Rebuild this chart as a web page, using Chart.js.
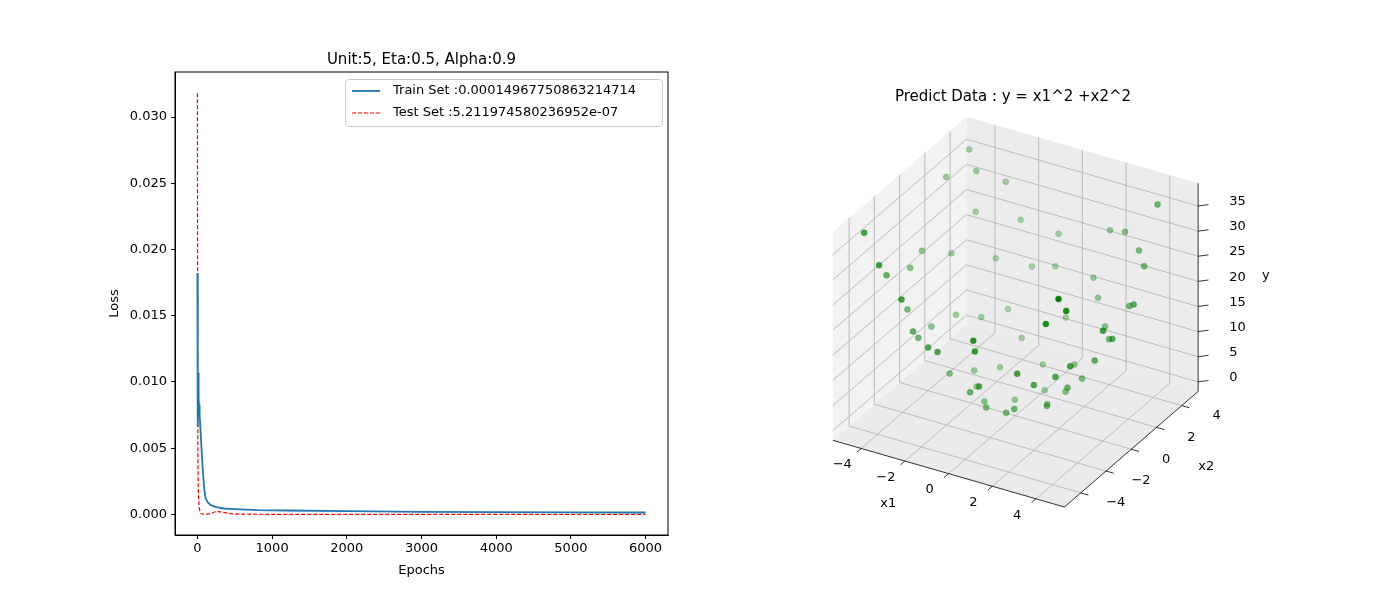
<!DOCTYPE html>
<html>
<head>
<meta charset="utf-8">
<script src="https://cdn.jsdelivr.net/npm/chart.js@4.4.1/dist/chart.umd.min.js"></script>
<style>
  body { margin: 0; background: #fff; }
  #wrap { position: relative; width: 1400px; height: 600px; }
  #wrap canvas { position: absolute; top: 0; }
</style>
</head>
<body>
<div id="wrap">
  <div style="position:absolute;left:0;top:0;width:700px;height:600px"><canvas id="lossChart"></canvas></div>
  <div style="position:absolute;left:700px;top:0;width:700px;height:600px"><canvas id="predChart"></canvas></div>
</div>
<script>
// ---- left panel data ----
const trainEpochs = [0, 3, 6, 10, 14, 18, 22, 30, 40, 55, 70, 90, 110, 140, 180, 250, 350, 500, 800, 1200, 2000, 3000, 4000, 5000, 6000];
const trainLoss   = [0.0182, 0.0095, 0.0066, 0.0107, 0.0078, 0.0087, 0.0083, 0.0075, 0.0065, 0.0050, 0.0035, 0.0020, 0.0012, 0.0009, 0.0007, 0.00055, 0.00045, 0.0004, 0.00033, 0.0003, 0.00025, 0.0002, 0.00018, 0.00016, 0.00015];
const testEpochs  = [0, 2, 4, 6, 8, 10, 14, 18, 25, 35, 50, 80, 120, 180, 250, 300, 400, 500, 1000, 2000, 3000, 4000, 5000, 6000];
const testLoss    = [0.0318, 0.018, 0.0085, 0.005, 0.0035, 0.0025, 0.0015, 0.0010, 0.0005, 0.0002, 0.00005, 0.00002, 0.00002, 0.00005, 0.00025, 0.0002, 0.0001, 0.00003, 0.00001, 0.000005, 0.000002, 0.000001, 0.000001, 0.0000005];
const lossTicksY = [0, 0.005, 0.010, 0.015, 0.020, 0.025, 0.030];
const epochTicks = [0, 1000, 2000, 3000, 4000, 5000, 6000];

// ---- right panel data (x1, x2, predicted y) ----
const predX1 = [-4.6, -3.9, -4.2, -3.1, -2.6, -4.8, -1.5, -0.8, -3.5, -2.2, -1.1, 0.4, 1.2, 2.3, 3.4, 4.1, 4.6, 3.8, 2.7, 1.6, 0.5, -0.4, -1.8, -2.9, -3.7, -4.4, -0.2, 1.9, 3.1, 4.4, -4.9, -3.3, -2.0, -0.9, 0.8, 2.1, 3.6, 4.8, -1.4, 0.1, 1.4, 2.6, 3.9, -2.5, -3.9, -4.5, -1.2, 0.3, 1.1, 2.9, 4.2, -0.6, -2.8, 1.7, 3.3, 0.9, -1.9, -4.1, 2.4, 4.7, -3.0, -0.3, 1.5, 3.7, -4.7, -2.3, 0.7, 2.0, 4.0, -1.6];
const predX2 = [4.3, 3.6, 2.2, 4.6, 1.8, 0.9, 3.9, 4.8, -0.6, -1.4, 2.4, 3.3, 4.1, 4.7, 3.9, 3.1, 1.4, -0.3, 0.6, 1.9, -1.6, -2.9, -3.8, -3.1, -4.4, -2.6, 0.3, -0.8, -2.2, -3.6, 3.0, 1.0, 0.2, -0.9, -4.6, -3.5, -1.9, -4.9, 1.2, 2.0, 0.1, 2.6, 4.5, -4.7, -1.8, -4.2, -4.1, -3.4, -2.0, -0.9, 0.4, 4.2, 3.3, 3.6, 1.7, -4.9, 2.7, 4.0, -2.7, -1.2, -2.5, -1.8, 4.9, -4.0, -0.2, 4.4, 1.1, 0.5, 2.1, -0.3];
const predY  = [36.0, 26.0, 20.4, 30.8, 10.6, 23.0, 17.5, 22.9, 12.8, 6.8, 7.0, 11.0, 18.2, 27.4, 26.8, 26.3, 23.0, 14.5, 7.6, 6.2, 2.8, 8.6, 17.7, 18.0, 33.0, 26.2, 0.4, 4.2, 14.5, 32.3, 33.0, 11.9, 4.2, 1.8, 21.9, 16.7, 16.6, 38.0, 3.4, 4.1, 2.0, 13.5, 35.3, 28.3, 18.3, 38.0, 18.2, 11.7, 5.2, 9.3, 17.8, 18.0, 18.8, 15.9, 13.8, 24.8, 11.1, 33.0, 13.1, 23.5, 15.3, 3.3, 26.3, 29.7, 22.1, 24.7, 1.7, 4.3, 20.4, 2.6];
const x1Ticks = [-4, -2, 0, 2, 4];
const x2Ticks = [-4, -2, 0, 2, 4];
const yTicks3d = [0, 5, 10, 15, 20, 25, 30, 35];

const FONT = '"DejaVu Sans", sans-serif';

// ---------- left: loss curves ----------
const pairs = (xs, ys) => xs.map((x, i) => ({ x: x, y: ys[i] }));

const lossDecor = {
    id: 'lossDecor',
    afterDraw(chart) {
        const c = chart.ctx, a = chart.chartArea;
        c.save();
        c.strokeStyle = '#000';
        c.lineWidth = 1;
        c.strokeRect(a.left, a.top, a.right - a.left, a.bottom - a.top);
        c.fillStyle = '#000';
        c.font = '15px ' + FONT;
        c.textAlign = 'center';
        c.textBaseline = 'alphabetic';
        c.fillText('Unit:5, Eta:0.5, Alpha:0.9', (a.left + a.right) / 2, 64);
        c.font = '13px ' + FONT;
        c.fillText('Epochs', (a.left + a.right) / 2, 574);
        c.translate(118, (a.top + a.bottom) / 2);
        c.rotate(-Math.PI / 2);
        c.fillText('Loss', 0, 0);
        c.restore();

        // legend
        c.save();
        const lx = 345, ly = 79, lw = 317, lh = 47;
        c.fillStyle = 'rgba(255,255,255,0.8)';
        c.strokeStyle = '#ccc';
        c.lineWidth = 1;
        c.beginPath();
        c.roundRect(lx + 0.5, ly + 0.5, lw, lh, 3);
        c.fill(); c.stroke();
        c.font = '13px ' + FONT;
        c.textBaseline = 'middle';
        c.fillStyle = '#000';
        c.strokeStyle = '#1f77b4';
        c.lineWidth = 1.8;
        c.beginPath(); c.moveTo(lx + 7, ly + 12); c.lineTo(lx + 35, ly + 12); c.stroke();
        c.fillText('Train Set :0.00014967750863214714', lx + 48, ly + 12);
        c.strokeStyle = 'red';
        c.lineWidth = 1.2;
        c.setLineDash([4, 2]);
        c.beginPath(); c.moveTo(lx + 7, ly + 34); c.lineTo(lx + 35, ly + 34); c.stroke();
        c.setLineDash([]);
        c.fillText('Test Set :5.211974580236952e-07', lx + 48, ly + 34);
        c.restore();
    }
};

new Chart(document.getElementById('lossChart'), {
    type: 'line',
    data: {
        datasets: [{
            label: 'Train Set',
            data: pairs(trainEpochs, trainLoss),
            borderColor: '#1f77b4',
            borderWidth: 1.8,
            pointRadius: 0,
            tension: 0
        }, {
            label: 'Test Set',
            data: pairs(testEpochs, testLoss),
            borderColor: 'red',
            borderWidth: 1.2,
            borderDash: [4, 2],
            pointRadius: 0,
            tension: 0
        }]
    },
    options: {
        responsive: true,
        maintainAspectRatio: false,
        animation: false,
        layout: { padding: { top: 72, right: 32, left: 0, bottom: 0 } },
        plugins: { legend: { display: false }, tooltip: { enabled: false } },
        scales: {
            x: {
                type: 'linear', min: -300, max: 6300,
                afterBuildTicks: s => { s.ticks = epochTicks.map(v => ({ value: v })); },
                afterFit: s => { s.height = 65; },
                ticks: { color: '#000', font: { family: FONT, size: 13 }, maxRotation: 0, padding: 2,
                         callback: v => String(v) },
                grid: { drawOnChartArea: false, color: '#000', tickLength: 4 },
                border: { color: '#000' }
            },
            y: {
                type: 'linear', min: -0.00155, max: 0.0334,
                afterBuildTicks: s => { s.ticks = lossTicksY.map(v => ({ value: v })); },
                afterFit: s => { s.width = 175; },
                ticks: { color: '#000', font: { family: FONT, size: 13 }, padding: 4,
                         callback: v => v.toFixed(3) },
                grid: { drawOnChartArea: false, color: '#000', tickLength: 4 },
                border: { color: '#000' }
            }
        }
    },
    plugins: [lossDecor]
});

// ---------- right: 3D scatter projected onto a flat scatter ----------
const OFFX = 700;               // canvas offset inside the page
const S = 271, CX = 1015 - OFFX, CY = 312, ZASP = 0.9;
const az = -60 * Math.PI / 180, el = 30 * Math.PI / 180;
const R = [-Math.sin(az), Math.cos(az), 0];
const U = [-Math.sin(el) * Math.cos(az), -Math.sin(el) * Math.sin(az), Math.cos(el)];
const E = [Math.cos(el) * Math.cos(az), Math.cos(el) * Math.sin(az), Math.sin(el)];
const zMin = -1.9, zMax = 39.5;
const norm = (x1, x2, y) => [x1 / 10.6, x2 / 10.6, ZASP * ((y - zMin) / (zMax - zMin) - 0.5)];
const dot = (a, b) => a[0] * b[0] + a[1] * b[1] + a[2] * b[2];
function proj(x1, x2, y) {
    const p = norm(x1, x2, y);
    return { x: CX + S * dot(R, p), y: CY - S * dot(U, p), d: dot(E, p) };
}

const pts = predX1.map((x, i) => proj(x, predX2[i], predY[i]));
const depths = pts.map(p => p.d);
const dLo = Math.min(...depths), dHi = Math.max(...depths);
const ptColors = pts.map(p => {
    const a = 0.3 + 0.7 * (p.d - dLo) / (dHi - dLo);
    return 'rgba(0,128,0,' + a.toFixed(2) + ')';
});

const X1L = -5.3, X1H = 5.3, X2L = -5.3, X2H = 5.3;

const boxDecor = {
    id: 'boxDecor',
    beforeDatasetsDraw(chart) {
        const c = chart.ctx, sx = chart.scales.x, sy = chart.scales.y;
        const P = (a, b, z) => { const q = proj(a, b, z); return [sx.getPixelForValue(q.x), sy.getPixelForValue(q.y)]; };
        const poly = (list, fill) => {
            c.beginPath();
            list.forEach((q, i) => { const p = P(...q); i ? c.lineTo(p[0], p[1]) : c.moveTo(p[0], p[1]); });
            c.closePath(); c.fillStyle = fill; c.fill();
        };
        const line = (a, b, col, w) => {
            const p = P(...a), q = P(...b);
            c.beginPath(); c.moveTo(p[0], p[1]); c.lineTo(q[0], q[1]);
            c.strokeStyle = col; c.lineWidth = w; c.stroke();
        };
        c.save();
        // panes
        poly([[X1L, X2L, zMin], [X1L, X2H, zMin], [X1L, X2H, zMax], [X1L, X2L, zMax]], '#f2f2f2');
        poly([[X1L, X2H, zMin], [X1H, X2H, zMin], [X1H, X2H, zMax], [X1L, X2H, zMax]], '#ececec');
        poly([[X1L, X2L, zMin], [X1H, X2L, zMin], [X1H, X2H, zMin], [X1L, X2H, zMin]], '#ebebeb');
        const g = '#b0b0b0';
        x1Ticks.forEach(t => {
            line([t, X2L, zMin], [t, X2H, zMin], g, 0.8);
            line([t, X2H, zMin], [t, X2H, zMax], g, 0.8);
        });
        x2Ticks.forEach(t => {
            line([X1L, t, zMin], [X1H, t, zMin], g, 0.8);
            line([X1L, t, zMin], [X1L, t, zMax], g, 0.8);
        });
        yTicks3d.forEach(t => {
            line([X1L, X2L, t], [X1L, X2H, t], g, 0.8);
            line([X1L, X2H, t], [X1H, X2H, t], g, 0.8);
        });
        // axis lines
        line([X1L, X2L, zMin], [X1H, X2L, zMin], '#000', 0.8);
        line([X1H, X2L, zMin], [X1H, X2H, zMin], '#000', 0.8);
        line([X1H, X2H, zMin], [X1H, X2H, zMax], '#000', 0.8);

        c.fillStyle = '#000';
        c.font = '13px ' + FONT;
        c.textAlign = 'center';
        c.textBaseline = 'middle';
        x1Ticks.forEach(t => {
            line([t, X2L, zMin], [t, X2L - 0.35, zMin], '#000', 0.8);
            const p = P(t, X2L - 1.5, zMin);
            c.fillText(t < 0 ? '\u2212' + (-t) : String(t), p[0], p[1]);
        });
        x2Ticks.forEach(t => {
            line([X1H, t, zMin], [X1H + 0.35, t, zMin], '#000', 0.8);
            const p = P(X1H + 1.6, t, zMin);
            c.fillText(t < 0 ? '\u2212' + (-t) : String(t), p[0], p[1]);
        });
        yTicks3d.forEach(t => {
            line([X1H, X2H, t], [X1H + 0.3, X2H + 0.3, t], '#000', 0.8);
            const p = P(X1H + 0.9, X2H + 0.9, t);
            c.textAlign = 'left';
            c.fillText(String(t), p[0], p[1]);
            c.textAlign = 'center';
        });
        let p = P(0, X2L - 3.2, zMin);
        c.fillText('x1', p[0] - 20, p[1] - 5);
        p = P(X1H + 3.2, 0, zMin);
        c.fillText('x2', p[0] + 5, p[1] - 3);
        p = P(X1H + 2.6, X2H + 2.6, (zMin + zMax) / 2);
        c.fillText('y', p[0] - 22, p[1]);
        c.restore();
    },
    afterDraw(chart) {
        const c = chart.ctx;
        c.save();
        c.fillStyle = '#000';
        c.font = '15px ' + FONT;
        c.textAlign = 'center';
        c.fillText('Predict Data : y = x1^2 +x2^2', 1013 - OFFX, 101);
        c.restore();
    }
};

new Chart(document.getElementById('predChart'), {
    type: 'scatter',
    data: {
        datasets: [{
            label: 'predict',
            data: pts.map(p => ({ x: p.x, y: p.y })),
            pointRadius: 3,
            pointBackgroundColor: ptColors,
            pointBorderColor: ptColors,
            pointBorderWidth: 0.5
        }]
    },
    options: {
        responsive: true,
        maintainAspectRatio: false,
        animation: false,
        layout: { padding: 0 },
        plugins: { legend: { display: false }, tooltip: { enabled: false } },
        scales: {
            x: { type: 'linear', min: 0, max: 700, display: false },
            y: { type: 'linear', min: 0, max: 600, reverse: true, display: false }
        }
    },
    plugins: [boxDecor]
});
</script>
</body>
</html>
